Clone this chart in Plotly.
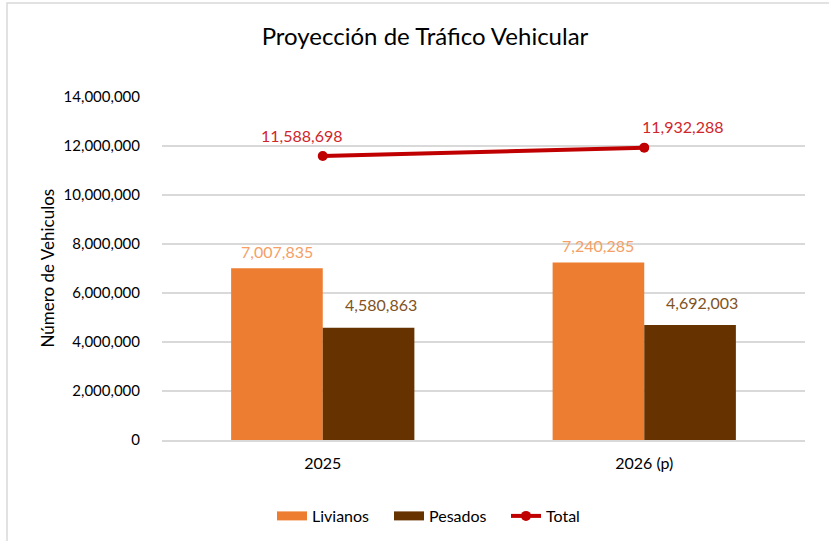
import plotly.graph_objects as go

categories = ["2025", "2026 (p)"]
livianos = [7007835, 7240285]
pesados = [4580863, 4692003]
total = [11588698, 11932288]
y_ticks = [0, 2000000, 4000000, 6000000, 8000000, 10000000, 12000000, 14000000]

FONT = "Lato, Open Sans, sans-serif"
C_LIV, C_PES, C_TOT = "#ED7D31", "#663300", "#C00000"
L_LIV, L_PES, L_TOT = "#F4A066", "#7F5322", "#D0262B"

fig = go.Figure()
fig.add_trace(go.Bar(name="Livianos", x=categories, y=livianos,
                     marker=dict(color=C_LIV, line=dict(width=0)), showlegend=False))
fig.add_trace(go.Bar(name="Pesados", x=categories, y=pesados,
                     marker=dict(color=C_PES, line=dict(width=0)), showlegend=False))
fig.add_trace(go.Scatter(name="Total", x=categories, y=total, mode="lines+markers",
                         line=dict(color=C_TOT, width=4),
                         marker=dict(color=C_TOT, size=10),
                         cliponaxis=False, showlegend=False))
# legend entries (wide swatches like the original)
fig.add_trace(go.Scatter(name="Livianos", x=[categories[0]], y=[None], mode="lines",
                         line=dict(color=C_LIV, width=9)))
fig.add_trace(go.Scatter(name="Pesados", x=[categories[0]], y=[None], mode="lines",
                         line=dict(color=C_PES, width=9)))
fig.add_trace(go.Scatter(name="Total", x=[categories[0]], y=[None], mode="lines+markers",
                         line=dict(color=C_TOT, width=4),
                         marker=dict(color=C_TOT, size=10)))

annotations = []
for i, c in enumerate(categories):
    # x given as the category index (serial number on a category axis)
    annotations.append(dict(x=i, y=livianos[i], text=f"{livianos[i]:,}", showarrow=False,
                            xshift=-46, yshift=17, yanchor="middle",
                            font=dict(color=L_LIV, size=16, family=FONT)))
    annotations.append(dict(x=i, y=pesados[i], text=f"{pesados[i]:,}", showarrow=False,
                            xshift=58, yshift=23, yanchor="middle",
                            font=dict(color=L_PES, size=16, family=FONT)))
    annotations.append(dict(x=i, y=total[i], text=f"{total[i]:,}", showarrow=False,
                            xshift=(-21 if i == 0 else 39), yshift=21, yanchor="middle",
                            font=dict(color=L_TOT, size=16, family=FONT)))
annotations.append(dict(text="Número de Vehiculos", xref="paper", yref="paper",
                        x=(47 - 162) / 643, y=0.5, textangle=-90, showarrow=False,
                        xanchor="center", yanchor="middle",
                        font=dict(size=17, color="#000000", family=FONT)))

fig.update_layout(
    width=829, height=541,
    margin=dict(l=162, r=24, t=97, b=101, autoexpand=False),
    paper_bgcolor="white", plot_bgcolor="white",
    barmode="group", bargap=0.43, bargroupgap=0,
    font=dict(family=FONT, color="#595959", size=16),
    title=dict(text="Proyección de Tráfico Vehicular", x=425 / 829, xanchor="center",
               xref="container", y=1 - 37 / 541, yanchor="middle", yref="container",
               font=dict(size=24, color="#000000", family=FONT), automargin=False),
    legend=dict(orientation="h", x=272 / 829, xanchor="left", xref="container",
                y=(440 - 516) / 343, yanchor="middle", yref="paper",
                font=dict(size=16, color="#000000", family=FONT),
                traceorder="normal", itemwidth=30,
                entrywidth=72, entrywidthmode="pixels"),
    annotations=annotations,
    shapes=[dict(type="rect", xref="paper", yref="paper",
                 x0=-155 / 643, x1=900 / 643, y0=-200 / 343, y1=(440 - 3) / 343,
                 line=dict(color="#D9D9D9", width=1.5), fillcolor="rgba(0,0,0,0)",
                 layer="below")],
)
fig.update_xaxes(type="category", categoryorder="array", categoryarray=categories,
                 range=[-0.5, 1.5],
                 showgrid=False, showline=True, linecolor="#D9D9D9", linewidth=1.5,
                 ticks="", ticklabelstandoff=8, automargin=False,
                 tickfont=dict(size=16, color="#000000"))
fig.update_yaxes(range=[0, 14000000], tickvals=y_ticks, tickformat=",d",
                 showgrid=True, gridcolor="#D9D9D9", gridwidth=1.5,
                 zeroline=False, showline=False, ticks="", ticklabelstandoff=21,
                 automargin=False, tickfont=dict(size=15, color="#000000"))

fig.write_html("out.html", config={"displayModeBar": False},
               post_script="document.body.style.margin='0px';document.body.style.overflow='hidden';")
